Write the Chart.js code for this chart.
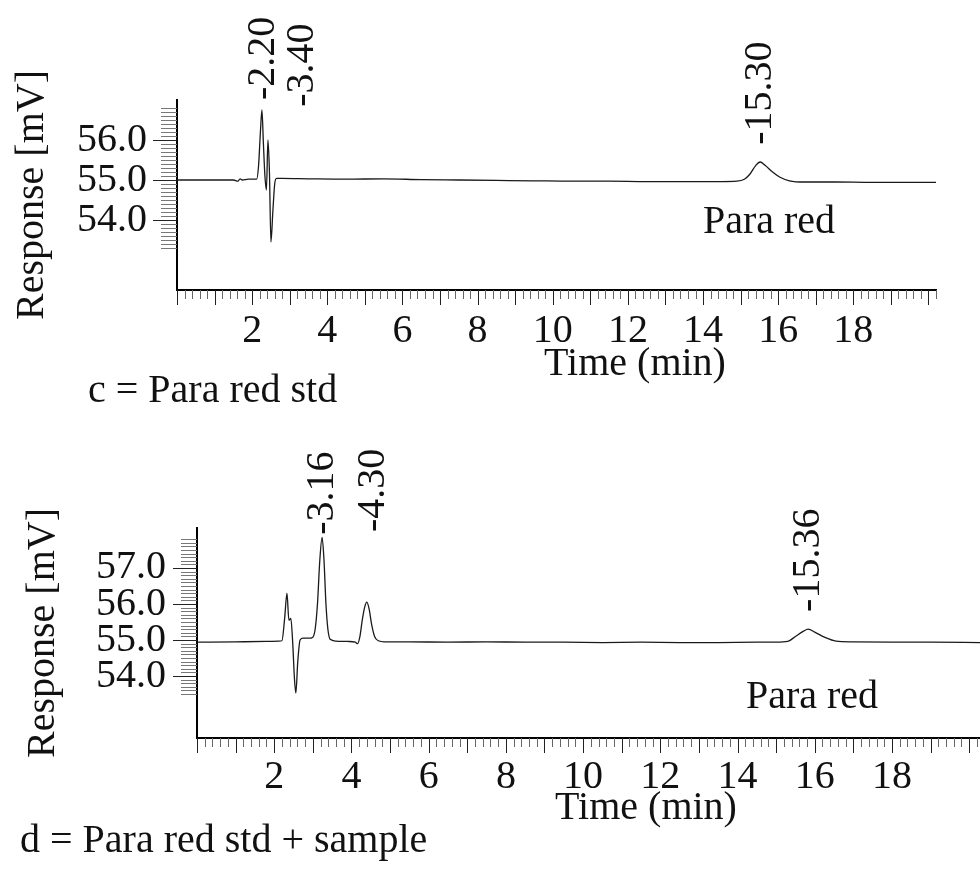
<!DOCTYPE html>
<html>
<head>
<meta charset="utf-8">
<title>Para red chromatograms</title>
<script src="https://cdn.jsdelivr.net/npm/chart.js@4.4.1/dist/chart.umd.min.js"></script>
<style>
  html, body { margin: 0; padding: 0; background: #fff; }
  #wrap { position: relative; width: 980px; height: 879px; overflow: hidden; }
  canvas { position: absolute; left: 0; }
  #chart-c { top: 0; }
  #chart-d { top: 440px; }
</style>
</head>
<body>
<div id="wrap">
  <canvas id="chart-c" width="980" height="440"></canvas>
  <canvas id="chart-d" width="980" height="439"></canvas>
</div>
<script>
// ==========================================================================
// DATA
// ==========================================================================
const xTickLabels = [2, 4, 6, 8, 10, 12, 14, 16, 18];
const yTickLabelsC = [54, 55, 56];
const yTickLabelsD = [54, 55, 56, 57];

// c = Para red std
const timeC = [0, 0.8, 1.5, 1.62, 1.68, 1.74, 1.9, 2.12, 2.17, 2.22,
  2.26, 2.3, 2.34, 2.38, 2.42, 2.46, 2.5, 2.55, 2.6, 2.65,
  2.8, 3.5, 4.5, 5.5, 6.5, 7.5, 8.5, 9.5, 10.5, 11.5,
  12.5, 13.5, 14.5, 14.9, 15.1, 15.25, 15.4, 15.52, 15.65, 15.85,
  16.05, 16.3, 16.7, 17.5, 18.5, 19.5, 20.2];
const respC = [55.0, 55.0, 55.0, 54.97, 55.03, 55.0, 55.02, 55.02, 55.35, 56.2,
  56.75, 55.9, 55.1, 54.75, 56.0, 55.2, 53.45, 54.2, 54.9, 55.04,
  55.04, 55.03, 55.02, 55.03, 55.01, 55.0, 54.99, 54.98, 54.97, 54.97,
  54.96, 54.96, 54.96, 54.97, 55.02, 55.15, 55.36, 55.45, 55.37, 55.2,
  55.07, 54.98, 54.95, 54.95, 54.94, 54.94, 54.94];

// d = Para red std + sample
const timeD = [0, 1.0, 1.8, 2.12, 2.2, 2.27, 2.33, 2.38, 2.43, 2.48,
  2.52, 2.56, 2.61, 2.67, 2.75, 2.9, 3.0, 3.06, 3.12, 3.18,
  3.24, 3.29, 3.34, 3.39, 3.45, 3.6, 3.9, 4.1, 4.16, 4.22,
  4.28, 4.34, 4.4, 4.46, 4.52, 4.6, 4.7, 4.85, 5.5, 6.5,
  7.5, 8.5, 9.5, 10.5, 11.5, 12.5, 13.5, 14.5, 15.0, 15.3,
  15.5, 15.7, 15.83, 16.0, 16.25, 16.55, 17.0, 18.0, 19.0, 20.28];
const respD = [54.94, 54.95, 54.96, 54.97, 54.98, 55.6, 56.3, 55.55, 55.6, 54.9,
  54.0, 53.53, 54.4, 55.0, 55.05, 55.05, 55.08, 55.3, 56.0, 57.2,
  57.85, 57.2, 56.0, 55.3, 55.02, 54.97, 54.96, 54.94, 54.9, 55.1,
  55.55, 55.9, 56.05, 55.85, 55.45, 55.1, 54.98, 54.95, 54.95, 54.94,
  54.95, 54.94, 54.94, 54.93, 54.94, 54.93, 54.93, 54.94, 54.94, 54.96,
  55.1, 55.24, 55.3, 55.22, 55.08, 54.97, 54.95, 54.94, 54.94, 54.93];

// retention time labels printed above the peaks
const peakLabelsC = ['-2.20', '-3.40', '-15.30'];
const peakTimesC = [2.29, 3.33, 15.52];
const peakAnchorC = [57.0, 56.83, 55.88];
const peakLabelsD = ['-3.16', '-4.30', '-15.36'];
const peakTimesD = [3.26, 4.58, 15.83];
const peakAnchorD = [57.92, 58.0, 55.78];

const FONT = '"Liberation Serif", "Times New Roman", serif';
const INK = '#111';

// ==========================================================================
// DECORATION PLUGIN: dense tick marks, peak labels, captions
// ==========================================================================
function chromDecor(o) {
  return {
    id: 'chromDecor',
    afterDraw(chart) {
      const ctx = chart.ctx;
      const xs = chart.scales.x, ys = chart.scales.y;
      const area = chart.chartArea;
      ctx.save();
      ctx.lineWidth = 1;

      // time axis: minor every 0.2 min, major every 1 min
      const nx = Math.floor(xs.max / 0.2 + 1e-6);
      for (let i = 0; i <= nx; i++) {
        const px = Math.round(xs.getPixelForValue(i * 0.2)) + 0.5;
        const major = i % 5 === 0;
        ctx.strokeStyle = major ? '#222' : '#666';
        ctx.beginPath();
        ctx.moveTo(px, area.bottom);
        ctx.lineTo(px, area.bottom + (major ? 15 : 9));
        ctx.stroke();
      }

      // response axis: minor every 0.1 mV, major at whole mV
      const ny = Math.round((o.yMinorTo - o.yMinorFrom) / 0.1);
      for (let j = 0; j <= ny; j++) {
        const v = o.yMinorFrom + j * 0.1;
        const py = Math.round(ys.getPixelForValue(v)) + 0.5;
        const major = Math.abs(v - Math.round(v)) < 1e-6;
        ctx.strokeStyle = major ? '#222' : '#777';
        ctx.beginPath();
        ctx.moveTo(area.left, py);
        ctx.lineTo(area.left - (major ? 24 : 16), py);
        ctx.stroke();
      }

      ctx.fillStyle = INK;
      ctx.font = '40px ' + FONT;

      // rotated retention times
      o.peakLabels.forEach((txt, i) => {
        const px = xs.getPixelForValue(o.peakTimes[i]);
        const py = ys.getPixelForValue(o.peakAnchor[i]);
        ctx.save();
        ctx.translate(px, py);
        ctx.rotate(-Math.PI / 2);
        ctx.textAlign = 'left';
        ctx.textBaseline = 'middle';
        ctx.fillText(txt, 0, 0);
        ctx.restore();
      });

      // texts
      ctx.textBaseline = 'middle';
      ctx.textAlign = 'center';
      ctx.fillText('Time (min)', o.timeTitle[0], o.timeTitle[1]);
      ctx.fillText('Para red', o.compound[0], o.compound[1]);
      ctx.textAlign = 'left';
      ctx.fillText(o.caption, o.captionPos[0], o.captionPos[1]);
      ctx.restore();
    }
  };
}

function buildChart(id, o) {
  const points = o.time.map((t, i) => ({ x: t, y: o.resp[i] }));
  return new Chart(document.getElementById(id), {
    type: 'line',
    data: {
      datasets: [{
        data: points,
        borderColor: '#1a1a1a',
        borderWidth: 1.3,
        pointRadius: 0,
        cubicInterpolationMode: 'monotone',
        fill: false
      }]
    },
    options: {
      responsive: false,
      animation: false,
      devicePixelRatio: 1,
      layout: { padding: o.padding },
      plugins: { legend: { display: false }, tooltip: { enabled: false } },
      scales: {
        x: {
          type: 'linear',
          min: 0,
          max: o.xMax,
          grid: { display: false },
          border: { display: true, color: '#000', width: 2 },
          ticks: {
            stepSize: 2,
            includeBounds: false,
            autoSkip: false,
            maxRotation: 0,
            padding: o.xTickPad,
            color: INK,
            font: { family: FONT, size: 40 },
            callback: v => {
              const r = Math.round(v);
              return (Math.abs(v - r) < 1e-6 && xTickLabels.includes(r)) ? String(r) : '';
            }
          },
          afterFit: s => { s.height = o.xAxisHeight; }
        },
        y: {
          min: o.yMin,
          max: o.yMax,
          grid: { display: false },
          border: { display: true, color: '#000', width: 2 },
          title: {
            display: true,
            text: 'Response [mV]',
            color: INK,
            font: { family: FONT, size: 40 },
            padding: { top: o.yTitlePad, bottom: 0 }
          },
          ticks: {
            stepSize: 1,
            includeBounds: false,
            autoSkip: false,
            padding: o.yTickPad,
            color: INK,
            font: { family: FONT, size: 40 },
            callback: v => {
              const r = Math.round(v);
              return (Math.abs(v - r) < 1e-6 && o.yLabels.includes(r)) ? r.toFixed(1) : '';
            }
          },
          afterFit: s => { s.width = o.yAxisWidth; }
        }
      }
    },
    plugins: [chromDecor(o)]
  });
}

document.addEventListener('DOMContentLoaded', () => {
  buildChart('chart-c', {
    time: timeC, resp: respC,
    xMax: 20.2, yMin: 52.25, yMax: 57.0,
    yLabels: yTickLabelsC,
    yMinorFrom: 53.3, yMinorTo: 56.8,
    padding: { top: 100, right: 44, left: 0, bottom: 0 },
    yAxisWidth: 177, xAxisHeight: 150,
    xTickPad: 9, yTickPad: 22, yTitlePad: 8,
    peakLabels: peakLabelsC, peakTimes: peakTimesC, peakAnchor: peakAnchorC,
    timeTitle: [635, 364], compound: [769, 222],
    caption: 'c = Para red std', captionPos: [88, 391]
  });
  buildChart('chart-d', {
    time: timeD, resp: respD,
    xMax: 20.28, yMin: 52.28, yMax: 58.11,
    yLabels: yTickLabelsD,
    yMinorFrom: 53.5, yMinorTo: 57.8,
    padding: { top: 88, right: 0, left: 0, bottom: 0 },
    yAxisWidth: 197, xAxisHeight: 141,
    xTickPad: 7, yTickPad: 23, yTitlePad: 19,
    peakLabels: peakLabelsD, peakTimes: peakTimesD, peakAnchor: peakAnchorD,
    timeTitle: [646, 368], compound: [812, 257],
    caption: 'd = Para red std + sample', captionPos: [20, 401]
  });
});
</script>
</body>
</html>
